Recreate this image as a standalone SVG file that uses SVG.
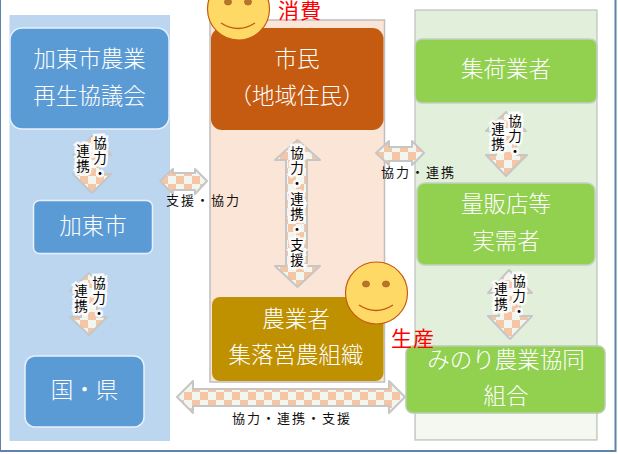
<svg xmlns="http://www.w3.org/2000/svg" width="618" height="454" viewBox="0 0 618 454">
<style>
text{font-family:"Noto Sans CJK JP","Noto Sans",sans-serif}
.w{fill:#fff;font-size:22.500px;text-anchor:middle;font-weight:300}
.r{fill:#f00;font-size:21px;text-anchor:middle;letter-spacing:1px}
.l{fill:#111;font-size:13px;letter-spacing:2px;font-weight:400}
.v{fill:#000;font-size:13.500px;writing-mode:vertical-rl;stroke:#fff;stroke-width:5px;paint-order:stroke;stroke-opacity:.9;letter-spacing:1.800px}
.a{fill:url(#chk);stroke:#c6c6c6;stroke-width:2;stroke-linejoin:round}
.s{fill:#ffd966;stroke:#c55a11;stroke-width:1.200}
.e{fill:#ad7a30;stroke:#c55a11;stroke-width:.8}
.m{fill:none;stroke:#c55a11;stroke-width:1.400}
</style>
<defs>
<pattern id="chk" width="16" height="16" patternUnits="userSpaceOnUse">
<rect width="16" height="16" fill="#f2f6ef"/>
<rect width="8" height="8" fill="#f4c6a6"/>
<rect x="8" y="8" width="8" height="8" fill="#f4c6a6"/>
</pattern>
</defs>
<rect x="0" y="-4" width="615.500" height="455" fill="#fff" stroke="#5f82aa" stroke-width="2"/>
<g id="panels">
<rect x="9.500" y="15" width="160.500" height="426" fill="#bcd6ef"/>
<rect x="210" y="20" width="174.500" height="362" fill="#fbe5d6" stroke="#bfbfbf" stroke-width="1.500"/>
<rect x="415" y="10" width="182" height="430" fill="#e2efda" stroke="#bcc1bc" stroke-width="1.200"/>
<rect x="416" y="400" width="180" height="39" fill="#f4f8f1"/>
</g>
<g id="connectors">
<path class="a" d="M92 136L111 155H100V174H111L92 193L73 174H84V155H73Z"/>
<path class="a" d="M89 273L107 291H97V317H107L89 335L70 317H81V291H70Z"/>
<path class="a" d="M297.500 140L320 160H307V266H320L297.500 287L275 266H286V160H275Z"/>
<path class="a" d="M506 112L526 131H516V155H527L506 176L486 155H496V131H486Z"/>
<path class="a" d="M509 270L532 293H520V316H532L510 339L488 316H499V293H488Z"/>
<path class="a" d="M160 181L173 169V173H195V169L207 181L195 194V190H173V194Z"/>
<path class="a" d="M376 153L389 141V147H412V141L424 153L412 165V161H389V165Z"/>
<path class="a" d="M177 397L193 381V389H389V381L405 397L389 413V406H193V413Z"/>
</g>
<g id="n-kyogikai">
<rect x="10" y="28" width="159" height="101" rx="12" fill="#5b9bd5" stroke="#e8f1fa" stroke-width="1.500"/>
<text class="w" x="89.500" y="67">加東市農業</text>
<text class="w" x="89.500" y="104">再生協議会</text>
</g>
<g id="n-kato">
<rect x="33.500" y="200.500" width="119" height="53" rx="6" fill="#5b9bd5" stroke="#e8f1fa" stroke-width="1.500"/>
<text class="w" x="93" y="234">加東市</text>
</g>
<g id="n-kuni">
<rect x="25" y="356" width="119" height="71" rx="10" fill="#5b9bd5" stroke="#e8f1fa" stroke-width="1.500"/>
<text class="w" x="84.500" y="398">国・県</text>
</g>
<g id="n-shimin">
<rect x="211" y="28" width="172.500" height="102" rx="11" fill="#c55a11"/>
<text class="w" x="297" y="67">市民</text>
<text class="w" x="297" y="104">（地域住民）</text>
</g>
<g id="n-nogyo">
<rect x="212" y="297" width="171.500" height="84" rx="8" fill="#bf9000"/>
<text class="w" x="296" y="327">農業者</text>
<text class="w" x="296" y="363">集落営農組織</text>
</g>
<g id="n-shuka">
<rect x="415" y="39" width="182" height="64" rx="7" fill="#92d050" stroke="#c3cfc0" stroke-width="1.500"/>
<text class="w" x="506" y="77">集荷業者</text>
</g>
<g id="n-ryohan">
<rect x="417" y="183" width="178" height="82" rx="8" fill="#92d050" stroke="#c3cfc0" stroke-width="1.500"/>
<text class="w" x="506" y="212">量販店等</text>
<text class="w" x="506" y="249">実需者</text>
</g>
<g id="n-minori">
<rect x="406" y="346" width="199" height="67" rx="7" fill="#92d050" stroke="#b9cbb0" stroke-width="1.500"/>
<text class="w" x="506" y="368">みのり農業協同</text>
<text class="w" x="506" y="404">組合</text>
</g>
<g id="smiley-top">
<circle class="s" cx="238.500" cy="9" r="31"/>
<ellipse class="e" cx="228" cy="2" rx="3.500" ry="3"/>
<ellipse class="e" cx="248" cy="2" rx="3.500" ry="3"/>
<path class="m" d="M221 23Q238 34 255 23"/>
</g>
<g id="smiley-bottom">
<circle class="s" cx="376.500" cy="293" r="31"/>
<ellipse class="e" cx="366" cy="284" rx="3.500" ry="3"/>
<ellipse class="e" cx="386" cy="284" rx="3.500" ry="3"/>
<path class="m" d="M359 305Q376 316 393 305"/>
</g>
<g id="labels">
<text class="r" x="300" y="18">消費</text>
<text class="r" x="413" y="346">生産</text>
<text class="l" x="166" y="205">支援・協力</text>
<text class="l" x="381" y="177">協力・連携</text>
<text class="l" x="232" y="423">協力・連携・支援</text>
<text class="v" x="100" y="136">協力・</text>
<text class="v" x="83" y="144">連携</text>
<text class="v" x="99" y="276">協力・</text>
<text class="v" x="81" y="284">連携</text>
<text class="v" x="297" y="146">協力・連携・支援</text>
<text class="v" x="515" y="114">協力・</text>
<text class="v" x="498" y="122">連携</text>
<text class="v" x="519" y="274">協力・</text>
<text class="v" x="501" y="282">連携</text>
</g>
</svg>
